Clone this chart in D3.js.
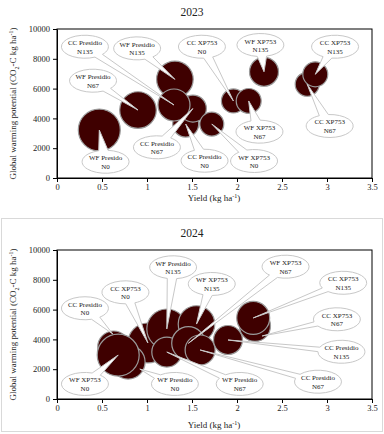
<!DOCTYPE html>
<html>
<head>
<meta charset="utf-8">
<script src="https://cdn.jsdelivr.net/npm/d3@7"></script>
<style>
body { margin: 0; background: #fff; }
text { font-family: "Liberation Serif", "DejaVu Serif", serif; fill: #222; }
</style>
</head>
<body>
<svg id="graph" width="384" height="434"></svg>
<script>
// shared ticks
const xTicks = [0, 0.5, 1, 1.5, 2, 2.5, 3, 3.5];
const yTicks = [0, 2000, 4000, 6000, 8000, 10000];

// 2023 (listed in drawing order)
const names2023 = ["WF Presido N0", "WF Presidio N67", "CC Presidio N0", "CC Presidio N67", "WF Presidio N135", "CC Presidio N135",
                   "WF XP753 N0", "CC XP753 N0", "WF XP753 N67", "WF XP753 N135", "CC XP753 N67", "CC XP753 N135"];
const yield2023 = [0.47, 0.90, 1.43, 1.51, 1.31, 1.30, 1.72, 1.96, 2.13, 2.30, 2.78, 2.87];
const gwp2023   = [3220, 4560, 3620, 4660, 6620, 4900, 3620, 5170, 5170, 7130, 6290, 6960];
const size2023  = [441, 335, 169, 182, 335, 256, 144, 144, 156, 210, 144, 156];

// 2024 (listed in drawing order)
const names2024 = ["CC XP753 N0", "WF Presidio N135", "WF XP753 N135", "WF Presidio N67", "WF XP753 N67", "CC Presidio N67",
                   "CC Presidio N0", "WF Presidio N0", "WF XP753 N0", "CC Presidio N135", "CC XP753 N67", "CC XP753 N135"];
const yield2024 = [1.01, 1.22, 1.55, 1.22, 1.46, 1.59, 0.63, 0.79, 0.68, 1.90, 2.20, 2.18];
const gwp2024   = [3760, 4700, 5030, 3150, 3740, 3290, 3490, 2480, 2950, 3960, 4900, 5440];
const size2024  = [400, 400, 335, 225, 279, 225, 256, 289, 441, 210, 240, 272];

// callout placement, in axis units (same order as the names)
const labX2023 = [0.54, 0.40, 1.64, 1.11, 0.89, 0.31, 2.19, 1.61, 2.25, 2.26, 3.03, 3.09];
const labY2023 = [1090, 6530, 1160, 2060, 8700, 8810, 1140, 8810, 3110, 8925, 3490, 8810];
const labX2024 = [0.76, 1.29, 1.72, 2.03, 2.54, 2.90, 0.31, 1.31, 0.31, 3.16, 3.11, 3.18];
const labY2024 = [7160, 8840, 7720, 1010, 8880, 1160, 6090, 1010, 1010, 3170, 5350, 7800];
// where a wedge does not point at the bubble centre
const tip2024 = [null, null, null, null, null, null, [0.62, 4360], [0.92, 2010], null, null, [2.28, 4230], null];

let svg = d3.select("#graph");

let sizeScale = d3.scaleSqrt().domain([0, 450]).range([0, 21.2]);

drawPanel("2023", 0, 201, names2023, yield2023, gwp2023, size2023, labX2023, labY2023, names2023.map(() => null));
drawPanel("2024", 221, 428, names2024, yield2024, gwp2024, size2024, labX2024, labY2024, tip2024);

// faint frame round the lower picture
svg.append("rect")
.attr("x", 1.5).attr("y", 218.5)
.attr("width", 381).attr("height", 213)
.attr("fill", "none")
.attr("stroke", "#d9d9d9");

function drawPanel(title, offset, xTitleY, names, xs, ys, sizes, labX, labY, tips)
{
    let top = 29 + offset;
    let bottom = 178 + offset;

    let x = d3.scaleLinear().domain([0, 3.5]).range([57, 372]);
    let y = d3.scaleLinear().domain([0, 10000]).range([bottom, top]);

    let g = svg.append("g");

    g.append("text")
    .attr("x", 192)
    .attr("y", 16 + offset)
    .attr("text-anchor", "middle")
    .style("font-size", "11.5px")
    .text(title);

    //plot frame
    g.append("rect")
    .attr("x", 57).attr("y", top)
    .attr("width", 315).attr("height", bottom - top)
    .attr("fill", "none")
    .attr("stroke", "#000")
    .attr("stroke-width", 1);

    let xAxis = g.append("g")
    .attr("transform", "translate(0," + bottom + ")")
    .call(d3.axisBottom(x).tickValues(xTicks).tickSize(4).tickSizeOuter(0).tickFormat(d => d));

    let yAxis = g.append("g")
    .attr("transform", "translate(57,0)")
    .call(d3.axisLeft(y).tickValues(yTicks).tickSize(4).tickSizeOuter(0).tickFormat(d => d));

    [xAxis, yAxis].forEach(a => {
        a.selectAll("path").attr("stroke", "#000");
        a.selectAll("line").attr("stroke", "#000");
        a.selectAll("text")
        .style("font-size", "8.5px")
        .attr("fill", "#222");
    });
    xAxis.selectAll("text").attr("y", 6);
    yAxis.selectAll("text").attr("x", -7);

    //axis titles
    let xt = g.append("text")
    .attr("x", 214)
    .attr("y", xTitleY)
    .attr("text-anchor", "middle")
    .style("font-size", "9px");
    xt.append("tspan").text("Yield (kg ha");
    xt.append("tspan").attr("baseline-shift", "super").style("font-size", "6px").text("-1");
    xt.append("tspan").text(")");

    let yt = g.append("text")
    .attr("transform", "translate(16," + ((top + bottom) / 2) + ") rotate(-90)")
    .attr("text-anchor", "middle")
    .style("font-size", "9px");
    yt.append("tspan").text("Global warming potential (CO");
    yt.append("tspan").attr("baseline-shift", "sub").style("font-size", "6px").text("2");
    yt.append("tspan").text("-C kg ha");
    yt.append("tspan").attr("baseline-shift", "super").style("font-size", "6px").text("-1");
    yt.append("tspan").text(")");

    let rows = names.map((n, i) => ({
        name: n, x: xs[i], y: ys[i], size: sizes[i],
        lx: labX[i], ly: labY[i], tip: tips[i]
    }));

    //bubbles
    g.selectAll()
    .data(rows)
    .enter()
    .append("circle")
    .attr("cx", d => x(d.x))
    .attr("cy", d => y(d.y))
    .attr("r", d => sizeScale(d.size))
    .attr("fill", "#3f0000")
    .attr("stroke", "#9a9a9a")
    .attr("stroke-width", 1.2);

    //wedge-ellipse callouts
    let rx = 23.5, ry = 11.5, half = 0.2;

    g.selectAll()
    .data(rows)
    .enter()
    .append("path")
    .attr("fill", "#fff")
    .attr("stroke", "#c8c8c8")
    .attr("stroke-width", 1)
    .attr("d", d => {
        let cx = x(d.lx), cy = y(d.ly);
        let tx = d.tip ? x(d.tip[0]) : x(d.x);
        let ty = d.tip ? y(d.tip[1]) : y(d.y);
        let t = Math.atan2((ty - cy) / ry, (tx - cx) / rx);
        let p1 = [cx + rx * Math.cos(t + half), cy + ry * Math.sin(t + half)];
        let p2 = [cx + rx * Math.cos(t - half), cy + ry * Math.sin(t - half)];
        return "M" + p1[0] + "," + p1[1]
            + " A" + rx + "," + ry + " 0 1 1 " + p2[0] + "," + p2[1]
            + " L" + tx + "," + ty + " Z";
    });

    let labels = g.selectAll()
    .data(rows)
    .enter()
    .append("text")
    .attr("text-anchor", "middle")
    .style("font-size", "7px")
    .attr("fill", "#333");

    labels.append("tspan")
    .attr("x", d => x(d.lx))
    .attr("y", d => y(d.ly) - 1.5)
    .text(d => d.name.slice(0, d.name.lastIndexOf(" ")));

    labels.append("tspan")
    .attr("x", d => x(d.lx))
    .attr("y", d => y(d.ly) + 7)
    .text(d => d.name.slice(d.name.lastIndexOf(" ") + 1));
}
</script>
</body>
</html>
